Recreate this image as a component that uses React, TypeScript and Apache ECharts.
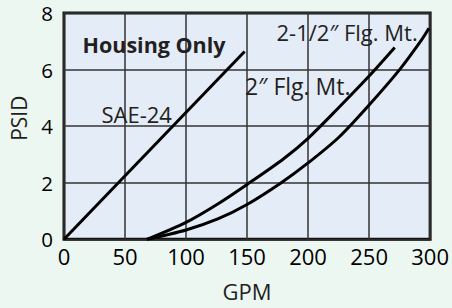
import React, { useEffect, useRef } from "react";
import * as echarts from "echarts";

const xTicks = [0, 50, 100, 150, 200, 250, 300];
const yTicks = [0, 2, 4, 6, 8];

const sae24X = [0, 148];
const sae24Y = [0, 6.64];

const flg2X = [68, 100, 126, 150, 180, 200, 225, 250, 271];
const flg2Y = [0, 0.6, 1.25, 1.94, 2.85, 3.57, 4.65, 5.77, 6.78];

const flg25X = [68, 100, 126, 150, 178, 200, 225, 250, 275, 293, 299];
const flg25Y = [0, 0.33, 0.72, 1.23, 2.0, 2.7, 3.6, 4.75, 6.0, 7.05, 7.46];

const labels = ["Housing Only", "SAE-24", "2\u2033 Flg. Mt.", "2-1/2\u2033 Flg. Mt."];

const FONT = "'Open Sans', 'DejaVu Sans', sans-serif";

function pairs(xs: number[], ys: number[]) {
  return xs.map((x, i) => [x, ys[i]]);
}

export default function App() {
  const ref = useRef<HTMLDivElement>(null);
  useEffect(() => {
    if (!ref.current) return;
    const chart = echarts.init(ref.current, undefined, { renderer: "svg" });
    const lineStyle = { color: "#000", width: 3 };
    const tick = { fontFamily: FONT, fontSize: 22, lineHeight: 22, color: "#000" };
    chart.setOption({
      animation: false,
      backgroundColor: "#EDF7F1",
      grid: {
        left: 64,
        top: 13,
        width: 372.5,
        height: 226.3,
        show: true,
        backgroundColor: "#E4ECF7",
        borderColor: "#111",
        borderWidth: 3,
        z: 0,
      },
      xAxis: {
        type: "value",
        min: xTicks[0],
        max: xTicks[xTicks.length - 1],
        interval: xTicks[1] - xTicks[0],
        name: "GPM",
        nameLocation: "middle",
        nameGap: 41,
        nameTextStyle: { fontFamily: FONT, fontSize: 22, color: "#231F20" },
        axisLine: { show: false },
        axisTick: { show: false },
        splitLine: { show: true, lineStyle: { color: "#333", width: 1.5 } },
        axisLabel: { ...tick, margin: 17, verticalAlign: "middle" },
      },
      yAxis: {
        type: "value",
        min: yTicks[0],
        max: yTicks[yTicks.length - 1],
        interval: yTicks[1] - yTicks[0],
        name: "PSID",
        nameLocation: "middle",
        nameGap: 35,
        nameRotate: 90,
        nameTextStyle: { fontFamily: FONT, fontSize: 21, color: "#231F20", padding: [0, 0, 0, 16] },
        axisLine: { show: false },
        axisTick: { show: false },
        splitLine: { show: true, lineStyle: { color: "#333", width: 1.5 } },
        axisLabel: { ...tick, fontSize: 20.5, lineHeight: 20, margin: 11 },
      },
      series: [
        {
          type: "line",
          data: pairs(sae24X, sae24Y),
          showSymbol: false,
          lineStyle,
          z: 3,
        },
        {
          type: "line",
          data: pairs(flg2X, flg2Y),
          showSymbol: false,
          smooth: 0.3,
          lineStyle,
          z: 3,
        },
        {
          type: "line",
          data: pairs(flg25X, flg25Y),
          showSymbol: false,
          smooth: 0.3,
          lineStyle,
          z: 3,
        },
      ],
      graphic: [
        {
          type: "text",
          x: 82.5,
          y: 44,
          z: 10,
          style: {
            text: labels[0],
            fontFamily: FONT,
            fontSize: 21.5,
            fontWeight: "bold",
            fill: "#231F20",
            verticalAlign: "middle",
          },
        },
        {
          type: "text",
          x: 101.5,
          y: 114,
          z: 10,
          style: { text: labels[1], fontFamily: FONT, fontSize: 22, fill: "#231F20", verticalAlign: "middle" },
        },
        {
          type: "text",
          x: 245,
          y: 86,
          z: 10,
          style: { text: labels[2], fontFamily: FONT, fontSize: 23, fill: "#231F20", verticalAlign: "middle" },
        },
        {
          type: "text",
          x: 276.5,
          y: 32,
          z: 10,
          style: { text: labels[3], fontFamily: FONT, fontSize: 22, fill: "#231F20", verticalAlign: "middle" },
        },
      ],
    });
    return () => chart.dispose();
  }, []);
  return (
    <div
      ref={ref}
      style={{ position: "fixed", left: 0, top: 0, width: 452, height: 308 }}
    />
  );
}
